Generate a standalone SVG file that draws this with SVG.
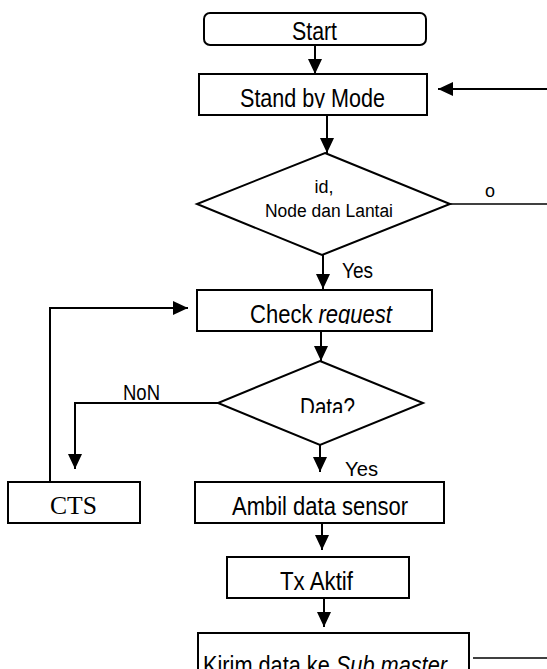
<svg xmlns="http://www.w3.org/2000/svg" width="547" height="669" viewBox="0 0 547 669">
<style>
.box{fill:#fff;stroke:#000;stroke-width:2}
.ln{fill:none;stroke:#000;stroke-width:2}
.thin{fill:none;stroke:#000;stroke-width:1.3}
.t{font-family:"Liberation Sans",Arial,sans-serif;font-size:25px;fill:#000}
.s{font-family:"Liberation Sans",Arial,sans-serif;font-size:18px;fill:#000}
.ser{font-family:"Liberation Serif","Times New Roman",serif;font-size:26px;fill:#000}
</style>
<defs>
<marker id="ah" markerUnits="userSpaceOnUse" markerWidth="16" markerHeight="15" refX="15" refY="7" orient="auto">
<path d="M0,0 L15,7 L0,14 z" fill="#000"/>
</marker>
<clipPath id="cStand"><rect x="200" y="75" width="226" height="33"/></clipPath>
<clipPath id="cCheck"><rect x="198" y="291" width="230" height="33"/></clipPath>
<clipPath id="cData"><rect x="260" y="380" width="120" height="33"/></clipPath>
</defs>
<g id="connectors">
<line class="ln" x1="315" y1="45" x2="315" y2="74" marker-end="url(#ah)"/>
<line class="ln" x1="547" y1="89" x2="438" y2="89" marker-end="url(#ah)"/>
<line class="ln" x1="327" y1="115" x2="327" y2="153" marker-end="url(#ah)"/>
<line class="thin" x1="450" y1="204" x2="547" y2="204"/>
<line class="ln" x1="323" y1="255" x2="323" y2="289" marker-end="url(#ah)"/>
<line class="ln" x1="321" y1="331" x2="321" y2="361" marker-end="url(#ah)"/>
<polyline class="ln" points="218,403 75,403 75,469" marker-end="url(#ah)"/>
<polyline class="ln" points="50,482 50,308 188,308" marker-end="url(#ah)"/>
<line class="ln" x1="320" y1="445" x2="320" y2="472" marker-end="url(#ah)"/>
<line class="ln" x1="322" y1="523" x2="322" y2="550" marker-end="url(#ah)"/>
<line class="ln" x1="324" y1="598" x2="324" y2="627" marker-end="url(#ah)"/>
<line class="thin" x1="473" y1="658" x2="547" y2="658"/>
</g>
<g id="start">
<rect class="box" x="204" y="13" width="222" height="32" rx="6"/>
<text class="t" x="292" y="40" textLength="45" lengthAdjust="spacingAndGlyphs">Start</text>
</g>
<g id="standby">
<rect class="box" x="199" y="74" width="228" height="41"/>
<text class="t" x="240" y="107" textLength="145" lengthAdjust="spacingAndGlyphs" clip-path="url(#cStand)">Stand by Mode</text>
</g>
<g id="decision1">
<polygon class="box" points="325,153 450,204 322,255 197,204"/>
<text class="s" x="324" y="193" text-anchor="middle">id,</text>
<text class="s" x="265" y="217" textLength="128" lengthAdjust="spacingAndGlyphs">Node dan Lantai</text>
<text class="s" x="485" y="197">o</text>
<text class="t" x="342" y="278" textLength="31" lengthAdjust="spacingAndGlyphs" style="font-size:22px">Yes</text>
</g>
<g id="check">
<rect class="box" x="197" y="290" width="235" height="41"/>
<text class="t" x="250" y="323" textLength="142" lengthAdjust="spacingAndGlyphs" clip-path="url(#cCheck)">Check <tspan font-style="italic">request</tspan></text>
</g>
<g id="decision2">
<polygon class="box" points="320,361 423,403 320,445 218,403"/>
<text class="t" x="300" y="416" textLength="55" lengthAdjust="spacingAndGlyphs" clip-path="url(#cData)">Data?</text>
<text class="t" x="123" y="400" textLength="37" lengthAdjust="spacingAndGlyphs" style="font-size:22px">NoN</text>
<text class="t" x="345" y="476" textLength="33" lengthAdjust="spacingAndGlyphs" style="font-size:20px">Yes</text>
</g>
<g id="cts">
<rect class="box" x="8" y="482" width="132" height="41"/>
<text class="ser" x="50" y="514" textLength="47" lengthAdjust="spacingAndGlyphs">CTS</text>
</g>
<g id="ambil">
<rect class="box" x="195" y="482" width="249" height="41"/>
<text class="t" x="232" y="515" textLength="176" lengthAdjust="spacingAndGlyphs">Ambil data sensor</text>
</g>
<g id="tx">
<rect class="box" x="227" y="557" width="182" height="41"/>
<text class="t" x="280" y="590" textLength="73" lengthAdjust="spacingAndGlyphs">Tx Aktif</text>
</g>
<g id="kirim">
<rect class="box" x="198" y="633" width="271" height="50"/>
<text class="t" x="203" y="674" textLength="244" lengthAdjust="spacingAndGlyphs">Kirim data ke <tspan font-style="italic">Sub master</tspan></text>
</g>
</svg>
